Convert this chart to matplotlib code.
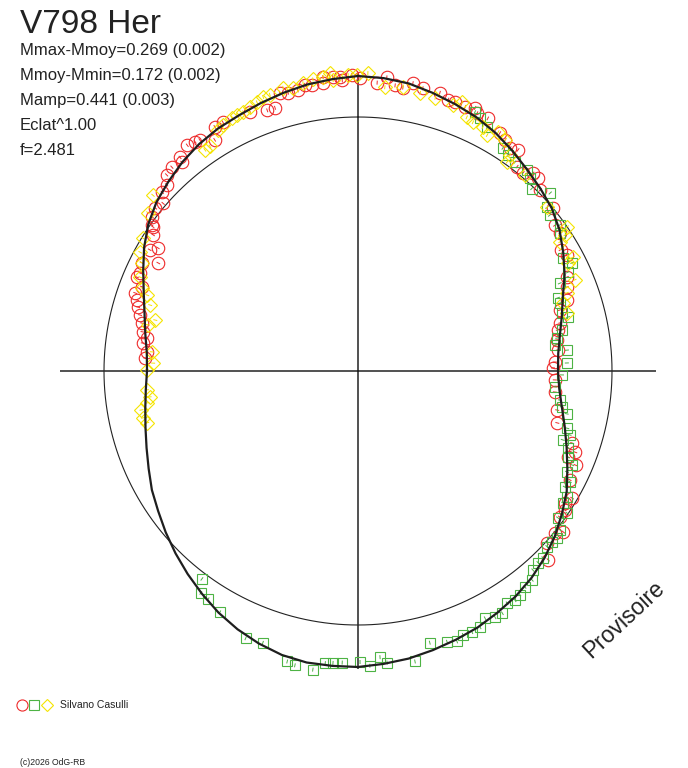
import numpy as np
import matplotlib.pyplot as plt

plt.rcParams['font.family'] = ['Liberation Sans', 'DejaVu Sans']

star = "V798 Her"
stats = ["Mmax-Mmoy=0.269 (0.002)", "Mmoy-Mmin=0.172 (0.002)",
         "Mamp=0.441 (0.003)", "Eclat^1.00", "f=2.481"]
observer = "Silvano Casulli"

# phase angle in degrees (clockwise from top) and radius (same scale as the plot, mean circle = 254)
fit_ang = list(range(0, 361, 5))
fit_r = [295, 294, 292, 288, 284, 280, 275, 269, 263, 258, 253, 246, 237, 228, 218, 211, 205, 201,
         200, 202, 207, 214, 222, 231, 241, 249, 257, 264, 270, 275, 279, 283, 286, 289, 292, 294,
         296, 296, 296, 294, 290, 285, 279, 272, 265, 258, 251, 244, 238, 231, 225, 220, 216, 213,
         211, 212, 216, 221, 228, 237, 247, 256, 263, 268, 273, 277, 280, 282, 285, 288, 291, 293,
         295]
mean_r = 254
r_max = 298

red_ang = [5.6, 7.4, 3.8, 0.4, 356.5, 353.2, 349.5, 345.9, 344.3, 340.8, 342.5, 337.4, 329.6,
           331.5, 328.2, 325.6, 324.6, 322.9, 320.2, 319.8, 317.6, 315.7, 312.4, 310.7, 308.8,
           305.1, 303.6, 300.2, 301.6, 347.9, 350.9, 353.1, 355.1, 356.9, 358.8, 9.0, 10.8,
           12.9, 16.4, 18.4, 19.8, 24.0, 22.1, 24.8, 27.2, 30.8, 32.5, 34.3, 35.9, 37.9, 39.8,
           41.5, 43.0, 45.2, 50.1, 53.5, 55.7, 59.1, 61.0, 65.8, 68.1, 71.2, 314.2, 306.8,
           305.3, 298.4, 296.6, 294.2, 293, 291.3, 289.3, 287.8, 286.2, 284.4, 282.5, 280.3,
           278.9, 277.4, 275.1, 273.5, 73.2, 76.6, 78.4, 81.1, 84, 87.4, 89.1, 92.6, 96.1,
           101.1, 104.6, 108.6, 110.5, 112.3, 113.4, 117.2, 120.7, 123.9, 125.9, 128.1, 129.4,
           132.3, 134.8, 122.5]
red_r = [295, 288, 289, 293, 295, 296, 291, 287, 289, 276, 276, 281, 283,
         283, 272, 280, 281, 283, 278, 273, 276, 274, 265, 257, 260,
         251, 246, 241, 235, 287, 290, 290, 295, 291, 296, 287, 293,
         290, 290, 286, 286, 288, 285, 284, 284, 277, 274, 270, 273, 259, 258,
         264, 264, 257, 254, 245, 245, 236, 239, 229, 225, 221, 267, 257,
         253, 227, 242, 239, 240, 232, 236, 232, 229, 225, 221, 219,
         214, 217, 212, 213, 211, 208, 204, 201, 201, 197, 195, 197, 198,
         203, 206, 226, 232, 227, 237, 238, 249, 249, 249, 261, 255,
         256, 268, 246]

green_ang = [24.3, 25.7, 27.9, 33.0, 34.8, 36.9, 40.1, 41.7, 43.6, 47.2, 49.1, 50.9, 54.1,
             55.7, 61.1, 63.2, 64.8, 66.5, 69.9, 71.4, 74.1, 75.6, 78.6, 80.6, 82.5, 84.3,
             87.8, 91.1, 94.6, 98.2, 100, 101.6, 105.3, 106.8, 108.6, 110.1, 112.3, 113.7,
             115.8, 117.6, 119.3, 121.1, 122.8, 124.2, 126.3, 128.2, 130, 131.4, 132.9, 135.3,
             136.8, 138.7, 140.2, 142.3, 144.1, 145.6, 147.3, 149.2, 150.9, 152.8, 154.5,
             156.4, 158.3, 159.9, 161.8, 165.2, 168.9, 174.3, 175.6, 177.7, 179.6, 183.1,
             184.9, 186.4, 188.6, 192.1, 193.7, 199.3, 202.8, 216.9, 215.3, 213.3, 209.8]
green_r = [284, 281, 276, 266, 263, 261, 263, 258, 252, 262, 250, 247, 249,
           245, 234, 240, 232, 220, 213, 213, 212, 217, 208, 202, 199, 210,
           209, 204, 198, 204, 207, 213, 217, 221, 216, 224, 227, 234,
           232, 239, 237, 244, 244, 253, 248, 257, 260, 259, 258, 263,
           263, 265, 272, 273, 276, 278, 276, 282, 282, 278, 284,
           285, 284, 288, 285, 281, 296, 293, 287, 295, 291, 292,
           293, 294, 302, 301, 299, 288, 290, 260, 272, 273, 278]

yellow_ang = [1.9, 359.8, 358.1, 353.2, 355.1, 351.2, 349.2, 347.1, 342.3, 340.9, 339.4, 337.7,
              336.1, 334.7, 333.5, 331.2, 329.8, 326.6, 325.3, 310.6, 307, 301.7, 298.6, 345.2,
              354.6, 5.4, 9.0, 12.6, 15.8, 19.7, 21.2, 23.2, 24.8, 27.1, 28.7, 30.4, 32.5, 35.5,
              35.1, 40.4, 49.1, 55.4, 56.7, 57.4, 62.1, 62.8, 67.2, 69.5, 296.6, 293.3, 291,
              289.8, 287.6, 284.1, 282.4, 275.3, 272.2, 270.3, 264.9, 262.9, 261.4, 259.8,
              257.7, 256.2, 71.6, 74.5]
yellow_r = [298, 296, 296, 296, 292, 295, 293, 290, 290, 290, 287, 285,
            283, 283, 283, 281, 279, 269, 269, 270, 263, 253, 248, 293,
            299, 285, 288, 285, 284, 283, 288, 276, 274, 274, 269, 277, 274, 257,
            264, 258, 250, 254, 248, 240, 243, 236, 235, 223, 242, 237, 231,
            224, 218, 209, 215, 207, 205, 211, 212, 210, 213, 220,
            220, 217, 216, 217]

series = [
    (red_ang, red_r, 'o', 9.0, '#ee2a2a'),
    (green_ang, green_r, 's', 7.3, '#4db344'),
    (yellow_ang, yellow_r, 'D', 7.2, '#f5e400'),
]

fig = plt.figure(figsize=(6.88, 7.68), dpi=100)
ax = fig.add_axes([60 / 688, (768 - 371 - r_max) / 768, 2 * r_max / 688, 2 * r_max / 768],
                  projection='polar')
ax.set_theta_zero_location('N')
ax.set_theta_direction(-1)
ax.set_rlim(0, r_max)
ax.axis('off')

# cross and mean circle
for a in [0, 90, 180, 270]:
    ax.plot([np.radians(a)] * 2, [0, r_max], color='#222222', lw=1.1, zorder=1)
circ = np.linspace(0, 2 * np.pi, 721)
ax.plot(circ, np.full(circ.size, mean_r), color='#222222', lw=0.8, zorder=1)

for ang, r, mk, ms, col in series:
    th = np.radians(ang)
    ax.plot(th, r, linestyle='none', marker=mk, ms=ms, mfc='none', mec=col, mew=0.8,
            clip_on=False, zorder=3)
    ax.errorbar(th, r, yerr=2, fmt='none', ecolor=col, elinewidth=0.7, capsize=0,
                zorder=3, clip_on=False)

ax.plot(np.radians(fit_ang), fit_r, color='#1e1e1e', lw=1.6, zorder=4, clip_on=False)

# texts
fig.text(20 / 688, 1 - 33 / 768, star, fontsize=24, color='#222222', va='baseline')
for i, s in enumerate(stats):
    fig.text(20 / 688, 1 - (55 + 25 * i) / 768, s, fontsize=12, color='#222222', va='baseline')

fig.text(624 / 688, 1 - 620 / 768, "Provisoire", fontsize=16.5, color='#222222',
         rotation=43, ha='center', va='center', rotation_mode='anchor')

for x, mk, ms, col in [(22, 'o', 8, '#ee2a2a'), (34, 's', 6.5, '#4db344'), (47, 'D', 6.5, '#f5e400')]:
    fig.add_artist(plt.Line2D([x / 688], [1 - 705 / 768], transform=fig.transFigure,
                              marker=mk, ms=ms, mfc='none', mec=col, mew=0.8, linestyle='none'))
fig.text(60 / 688, 1 - 708 / 768, observer, fontsize=7.5, color='#222222', va='baseline')
fig.text(20 / 688, 1 - 765 / 768, "(c)2026 OdG-RB", fontsize=6.2, color='#222222', va='baseline')

fig.savefig('out.png', dpi=100, facecolor='white')
